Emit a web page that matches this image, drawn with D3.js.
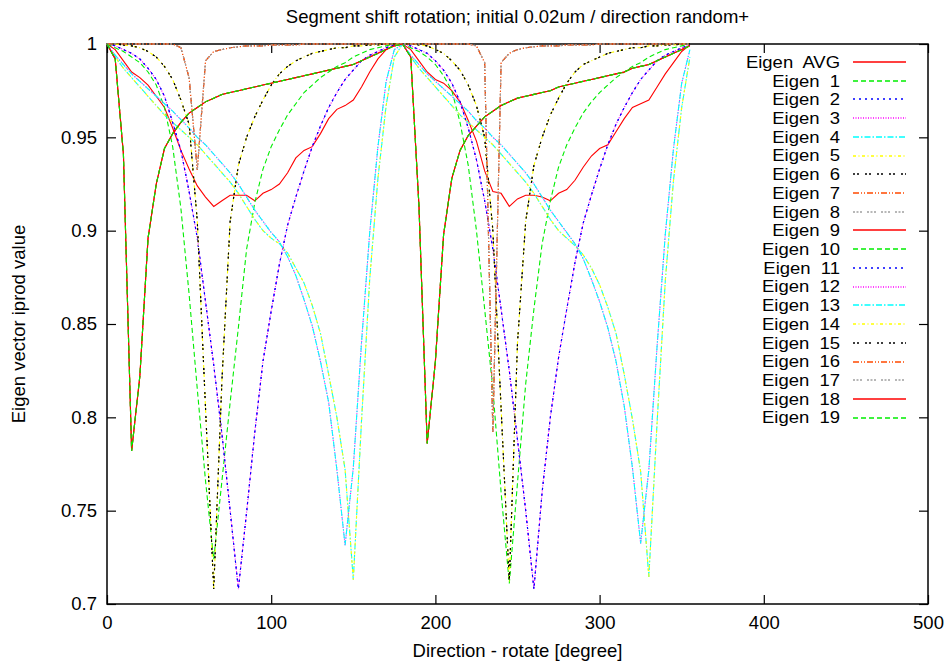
<!DOCTYPE html>
<html>
<head>
<meta charset="utf-8">
<script src="https://cdn.jsdelivr.net/npm/d3@7"></script>
<style>
  html, body { margin: 0; padding: 0; background: #fff; }
  svg { display: block; font-family: "Liberation Sans", Arial, Helvetica, sans-serif; }
</style>
</head>
<body>
<svg id="chart" width="947" height="661"></svg>
<script>
// Rotation angle of the segment shift, in degrees (sampled every 5 degrees)
const angles = [0,5,10,15,20,25,30,35,40,45,50,55,60,65,70,75,80,85,90,95,100,105,110,115,120,125,130,135,140,145,150,155,160,165,170,175,
                180,185,190,195,200,205,210,215,220,225,230,235,240,245,250,255,260,265,270,275,280,285,290,295,300,305,310,315,320,325,330,335,340,345,350,355];

// Average of the eigen vector inner products
const avg = [1.000,0.997,0.991,0.985,0.982,0.978,0.972,0.966,0.955,0.943,0.933,0.924,0.918,0.913,0.916,0.919,0.919,0.919,0.916,0.920,0.922,0.925,0.931,0.939,0.943,0.945,0.952,0.960,0.965,0.967,0.970,0.977,0.985,0.992,0.997,0.9995,
             1.000,0.997,0.991,0.985,0.981,0.979,0.975,0.969,0.959,0.948,0.932,0.921,0.920,0.913,0.917,0.919,0.919,0.918,0.916,0.920,0.922,0.927,0.934,0.940,0.944,0.946,0.953,0.960,0.966,0.968,0.970,0.977,0.984,0.990,0.996,0.9995];

// Eigen vectors with a sharp minimum at 15 / 195 degrees
const dip15 = [1.000,0.992,0.941,0.782,0.822,0.896,0.925,0.944,0.952,0.958,0.963,0.966,0.969,0.971,0.973,0.974,0.975,0.976,0.977,0.978,0.979,0.980,0.981,0.982,0.983,0.984,0.985,0.986,0.987,0.988,0.989,0.991,0.993,0.995,0.997,0.999,
               1.000,0.993,0.913,0.786,0.830,0.898,0.928,0.943,0.951,0.956,0.961,0.964,0.967,0.969,0.971,0.972,0.973,0.974,0.975,0.977,0.978,0.979,0.980,0.981,0.982,0.983,0.984,0.985,0.987,0.988,0.989,0.991,0.993,0.995,0.997,0.999];

// Eigen vector with a broad minimum at 65 / 245 degrees
const dip65a = [1.000,0.998,0.996,0.993,0.990,0.985,0.978,0.966,0.945,0.912,0.866,0.815,0.766,0.724,0.766,0.808,0.848,0.890,0.915,0.933,0.945,0.954,0.962,0.968,0.974,0.978,0.982,0.985,0.988,0.990,0.993,0.995,0.997,0.998,0.999,1.000,
                1.000,0.998,0.996,0.993,0.989,0.983,0.975,0.958,0.935,0.900,0.858,0.815,0.760,0.711,0.765,0.818,0.858,0.893,0.916,0.934,0.946,0.955,0.963,0.969,0.974,0.978,0.982,0.985,0.988,0.990,0.993,0.995,0.997,0.998,0.999,1.000];

// Eigen vectors with a narrow minimum at 65 / 245 degrees
const dip65b = [1.000,1.000,0.9995,0.999,0.998,0.996,0.993,0.988,0.981,0.970,0.957,0.905,0.805,0.708,0.820,0.905,0.935,0.950,0.961,0.970,0.978,0.984,0.988,0.991,0.993,0.995,0.996,0.997,0.998,0.998,0.999,0.999,0.9995,0.9995,1.000,1.000,
                1.000,1.000,0.9995,0.999,0.997,0.995,0.991,0.986,0.978,0.967,0.950,0.900,0.805,0.712,0.840,0.905,0.935,0.950,0.962,0.971,0.979,0.985,0.989,0.991,0.993,0.995,0.996,0.997,0.998,0.998,0.999,0.999,0.9995,0.9995,1.000,1.000];

// Eigen vectors with a minimum at 80 / 260 degrees
const dip80 = [1.000,0.999,0.997,0.995,0.992,0.987,0.981,0.972,0.958,0.943,0.921,0.896,0.862,0.828,0.791,0.750,0.708,0.749,0.792,0.830,0.857,0.882,0.903,0.918,0.932,0.945,0.956,0.966,0.974,0.981,0.986,0.991,0.994,0.996,0.998,0.9995,
               1.000,0.999,0.997,0.995,0.991,0.986,0.979,0.969,0.955,0.938,0.916,0.890,0.858,0.825,0.788,0.750,0.708,0.760,0.800,0.832,0.858,0.883,0.904,0.919,0.933,0.946,0.957,0.966,0.974,0.981,0.986,0.991,0.994,0.996,0.998,0.9995];

// Eigen vectors with a minimum at 145 / 325 degrees
const dip145 = [1.000,0.994,0.989,0.984,0.980,0.976,0.972,0.968,0.964,0.9595,0.955,0.950,0.946,0.941,0.936,0.931,0.925,0.918,0.911,0.905,0.899,0.894,0.886,0.876,0.863,0.849,0.830,0.808,0.772,0.7315,0.773,0.840,0.899,0.945,0.980,0.997,
                1.000,0.994,0.989,0.984,0.980,0.976,0.972,0.968,0.964,0.959,0.955,0.950,0.946,0.941,0.936,0.931,0.925,0.918,0.911,0.905,0.899,0.893,0.885,0.874,0.862,0.848,0.830,0.806,0.773,0.7325,0.772,0.838,0.898,0.944,0.979,0.997];

// Eigen vectors with a minimum at 150 / 330 degrees
const dip150 = [1.000,0.993,0.987,0.982,0.977,0.972,0.967,0.962,0.958,0.954,0.950,0.946,0.941,0.936,0.931,0.926,0.920,0.913,0.906,0.900,0.896,0.893,0.888,0.880,0.872,0.860,0.845,0.823,0.800,0.772,0.713,0.798,0.874,0.928,0.967,0.993,
                1.000,0.993,0.987,0.982,0.977,0.972,0.967,0.962,0.958,0.954,0.950,0.946,0.941,0.936,0.931,0.926,0.920,0.913,0.906,0.900,0.896,0.892,0.887,0.880,0.871,0.859,0.845,0.823,0.799,0.771,0.7145,0.797,0.873,0.927,0.966,0.993];

// Eigen vectors that stay near 1 except for a short drop at 55 / 235 degrees
const dip55 = [1.000,1.000,1.000,1.000,1.000,1.000,1.000,1.000,1.000,0.998,0.982,0.9325,0.991,0.996,0.997,0.998,0.9985,0.999,0.999,0.999,0.9995,0.9995,0.9995,0.9995,1.000,1.000,1.000,1.000,1.000,1.000,1.000,1.000,1.000,1.000,1.000,1.000,
               1.000,1.000,1.000,1.000,1.000,1.000,1.000,1.000,1.000,0.999,0.990,0.792,0.990,0.995,0.997,0.998,0.9985,0.999,0.999,0.999,0.9995,0.9995,0.9995,0.9995,1.000,1.000,1.000,1.000,1.000,1.000,1.000,1.000,1.000,1.000,1.000,1.000];

// Axis ticks
const xTicks = [0, 100, 200, 300, 400, 500];
const xTickLabels = ["0", "100", "200", "300", "400", "500"];
const yTicks = [0.7, 0.75, 0.8, 0.85, 0.9, 0.95, 1];
const yTickLabels = ["0.7", "0.75", "0.8", "0.85", "0.9", "0.95", "1"];

// Line styles per legend entry (gnuplot style cycle)
const RED = "#ff0000", GREEN = "#00ee00", BLUE = "#0000ff", MAGENTA = "#ff00ff",
      CYAN = "#00ffff", YELLOW = "#ffff00", BLACK = "#000000", ORANGE = "#ff4a00", GRAY = "#a0a0a0";
const DASH = {
  red: null, green: "5,3", blue: "2,4", magenta: "1,1.5", cyan: "6,2,1.5,2",
  yellow: "3,2.5,1,2.5", black: "2,2,2,6", orange: "6,2,1,2,1,2", gray: "2,1.5,2,1.5,2,5"
};

const series = [
  { label: "Eigen  AVG", color: RED,     dash: DASH.red,     values: avg },
  { label: "Eigen  1",   color: GREEN,   dash: DASH.green,   values: dip65a },
  { label: "Eigen  2",   color: BLUE,    dash: DASH.blue,    values: dip80 },
  { label: "Eigen  3",   color: MAGENTA, dash: DASH.magenta, values: dip80 },
  { label: "Eigen  4",   color: CYAN,    dash: DASH.cyan,    values: dip150 },
  { label: "Eigen  5",   color: YELLOW,  dash: DASH.yellow,  values: dip150 },
  { label: "Eigen  6",   color: BLACK,   dash: DASH.black,   values: dip65b },
  { label: "Eigen  7",   color: ORANGE,  dash: DASH.orange,  values: dip55 },
  { label: "Eigen  8",   color: GRAY,    dash: DASH.gray,    values: dip55 },
  { label: "Eigen  9",   color: RED,     dash: DASH.red,     values: dip15 },
  { label: "Eigen  10",  color: GREEN,   dash: DASH.green,   values: dip15 },
  { label: "Eigen  11",  color: BLUE,    dash: DASH.blue,    values: dip80 },
  { label: "Eigen  12",  color: MAGENTA, dash: DASH.magenta, values: dip145 },
  { label: "Eigen  13",  color: CYAN,    dash: DASH.cyan,    values: dip145 },
  { label: "Eigen  14",  color: YELLOW,  dash: DASH.yellow,  values: dip65b },
  { label: "Eigen  15",  color: BLACK,   dash: DASH.black,   values: dip65b },
  { label: "Eigen  16",  color: ORANGE,  dash: DASH.orange,  values: dip55 },
  { label: "Eigen  17",  color: GRAY,    dash: DASH.gray,    values: dip55 },
  { label: "Eigen  18",  color: RED,     dash: DASH.red,     values: dip15 },
  { label: "Eigen  19",  color: GREEN,   dash: DASH.green,   values: dip15 }
];

const W = 947, H = 661;
const plot = { left: 107, right: 928, top: 44, bottom: 604 };
const FONT = 18.5;
const KEY_FONT = 16;     // key entries: slightly smaller glyphs, stretched to the same width
const KEY_STRETCH = 1.155;

const x = d3.scaleLinear().domain([0, 500]).range([plot.left, plot.right]);
const y = d3.scaleLinear().domain([0.7, 1]).range([plot.bottom, plot.top]);

const svg = d3.select("#chart");
svg.append("rect").attr("width", W).attr("height", H).attr("fill", "#fff");

function styleAxis(g) {
  g.attr("font-family", null).attr("font-size", null).style("color", "#000");
  g.select(".domain").remove();
  g.selectAll(".tick line").attr("stroke-width", 1.2);
  g.selectAll(".tick text").attr("font-size", FONT).attr("fill", "#000");
}

// bottom axis with labels, ticks pointing inward
svg.append("g")
  .attr("transform", `translate(0,${plot.bottom})`)
  .call(d3.axisBottom(x).tickValues(xTicks).tickFormat((d, i) => xTickLabels[i]).tickSize(-9).tickPadding(12))
  .call(styleAxis);

// top mirror ticks
svg.append("g")
  .attr("transform", `translate(0,${plot.top})`)
  .call(d3.axisTop(x).tickValues(xTicks).tickFormat("").tickSize(-9))
  .call(styleAxis);

// left axis with labels
svg.append("g")
  .attr("transform", `translate(${plot.left},0)`)
  .call(d3.axisLeft(y).tickValues(yTicks).tickFormat((d, i) => yTickLabels[i]).tickSize(-9).tickPadding(10))
  .call(styleAxis);

// right mirror ticks
svg.append("g")
  .attr("transform", `translate(${plot.right},0)`)
  .call(d3.axisRight(y).tickValues(yTicks).tickFormat("").tickSize(-9))
  .call(styleAxis);

// plot border
svg.append("rect")
  .attr("x", plot.left).attr("y", plot.top)
  .attr("width", plot.right - plot.left).attr("height", plot.bottom - plot.top)
  .attr("fill", "none").attr("stroke", "#000").attr("stroke-width", 1.5);

// curves
const line = d3.line().x(d => x(d[0])).y(d => y(d[1]));
const curves = svg.append("g").attr("fill", "none");
series.forEach(s => {
  curves.append("path")
    .attr("d", line(angles.map((a, i) => [a, s.values[i]])))
    .attr("stroke", s.color)
    .attr("stroke-width", 1.1)
    .attr("stroke-dasharray", s.dash);
});

// legend
const legend = svg.append("g");
const rowY = i => 62 + i * 18.72;
series.forEach((s, i) => {
  legend.append("text")
    .attr("transform", `translate(840,${rowY(i) + 5.8}) scale(${KEY_STRETCH},1)`)
    .attr("text-anchor", "end")
    .attr("font-size", KEY_FONT)
    .style("white-space", "pre")
    .text(s.label);
  const ly = Math.round(rowY(i));
  legend.append("line")
    .attr("x1", 853).attr("x2", 906)
    .attr("y1", ly).attr("y2", ly)
    .attr("stroke", s.color).attr("stroke-width", 1.4)
    .attr("stroke-dasharray", s.dash);
});

// title and axis titles
svg.append("text")
  .attr("x", (plot.left + plot.right) / 2).attr("y", 23)
  .attr("text-anchor", "middle").attr("font-size", FONT)
  .text("Segment shift rotation; initial 0.02um / direction random+");

svg.append("text")
  .attr("x", (plot.left + plot.right) / 2).attr("y", 657)
  .attr("text-anchor", "middle").attr("font-size", FONT)
  .text("Direction - rotate [degree]");

svg.append("text")
  .attr("transform", `translate(25,${(plot.top + plot.bottom) / 2}) rotate(-90)`)
  .attr("text-anchor", "middle").attr("font-size", FONT)
  .text("Eigen vector iprod value");
</script>
</body>
</html>
